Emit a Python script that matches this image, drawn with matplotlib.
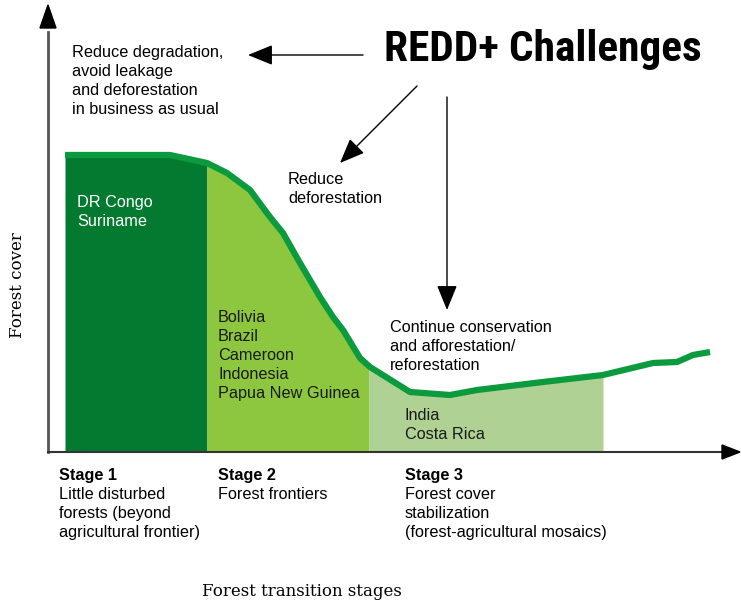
import matplotlib.pyplot as plt
import numpy as np
from matplotlib.patches import FancyArrowPatch
from matplotlib import font_manager

plt.rcParams['font.family'] = ['Liberation Sans', 'DejaVu Sans']

# forest cover curve (x = transition progress, y = forest cover), chart units
curve_x = [17, 122, 159, 179, 202, 222, 235, 252, 272, 285, 295, 312, 322,
           362, 402, 429, 495, 555, 605, 629, 645, 662]
curve_y = [297, 297, 289, 279, 262, 235, 219, 189, 155, 135, 122, 94, 85,
           60, 57, 62, 70, 77, 89, 90, 97, 100]

stage_edges = [17, 159, 321, 555]
stage_colors = ['#047a30', '#8dc63f', '#afd193']
stage_titles = ['Stage 1', 'Stage 2', 'Stage 3']
stage_descr = ['Little disturbed\nforests (beyond\nagricultural frontier)',
               'Forest frontiers',
               'Forest cover\nstabilization\n(forest-agricultural mosaics)']
stage_countries = ['DR Congo\nSuriname',
                   'Bolivia\nBrazil\nCameroon\nIndonesia\nPapua New Guinea',
                   'India\nCosta Rica']

fig = plt.figure(figsize=(7.41, 6.02), dpi=100)
ax = fig.add_axes([0, 0, 1, 1])
ax.set_xlim(-48, 693)
ax.set_ylim(-150, 452)
ax.axis('off')

cx = np.array(curve_x, float)
cy = np.array(curve_y, float)
for i in range(3):
    a, b = stage_edges[i], stage_edges[i + 1]
    xs = np.concatenate([[a], cx[(cx > a) & (cx < b)], [b]])
    ys = np.interp(xs, cx, cy)
    ax.fill_between(xs, 0, ys, color=stage_colors[i], lw=0, zorder=1)

ax.plot(cx, cy, color='#0c9a3e', lw=4.5, solid_capstyle='butt',
        solid_joinstyle='round', zorder=3)

# axes with arrows
ax.plot([0, 0], [0, 420], color='#555555', lw=2, zorder=4)
ax.plot([0, 680], [0, 0], color='#333333', lw=1.5, zorder=4)
ax.fill([-8, 8, 0], [424, 424, 447], color='black', zorder=5)
ax.fill([674, 674, 692], [-7, 7, 0], color='black', zorder=5)

txt = dict(fontsize=11.7, va='top', ha='left', linespacing=1.33)
ax.text(24, 407, 'Reduce degradation,\navoid leakage\nand deforestation\nin business as usual', **txt)
ax.text(240, 280, 'Reduce\ndeforestation', **txt)
ax.text(342, 132, 'Continue conservation\nand afforestation/\nreforestation', **txt)

country_pos = [(29, 257), (170, 142), (357, 44)]
country_col = ['white', '#1a1a1a', '#1a1a1a']
for (x, y), s, c in zip(country_pos, stage_countries, country_col):
    ax.text(x, y, s, color=c, zorder=6, **txt)

stage_x = [11, 170, 357]
for x, t, d in zip(stage_x, stage_titles, stage_descr):
    ax.text(x, -16, t, fontweight='bold', **txt)
    ax.text(x, -35, d, **txt)

# condensed headline font if one is installed
names = {f.name for f in font_manager.fontManager.ttflist}
head_font = 'DejaVu Sans'
for cand in ['Liberation Sans Narrow', 'Roboto Condensed', 'Open Sans Condensed',
             'DejaVu Sans Condensed', 'Noto Sans Condensed']:
    if cand in names:
        head_font = cand
        break
title = ax.text(495, 402, 'REDD+ Challenges', fontsize=36, fontweight='bold',
                family=head_font, stretch='condensed', ha='center',
                va='center', color='black')
fig.canvas.draw()
w = title.get_window_extent().width
title.set_fontsize(36 * 318 / w)

arrow = dict(arrowstyle='-|>,head_length=1.1,head_width=0.45', color='black',
             lw=1, shrinkA=0, shrinkB=0, mutation_scale=14)
ax.add_patch(FancyArrowPatch((315, 397), (200, 397), **arrow))
ax.add_patch(FancyArrowPatch((369, 366), (292, 289), **arrow))
ax.add_patch(FancyArrowPatch((399, 355), (399, 142), **arrow))

ax.text(-30, 167, 'Forest cover', rotation=90, fontsize=12,
        family='DejaVu Serif', ha='center', va='center')
ax.text(254, -139, 'Forest transition stages', fontsize=12,
        family='DejaVu Serif', ha='center', va='center')

plt.savefig('out.png', dpi=100)
